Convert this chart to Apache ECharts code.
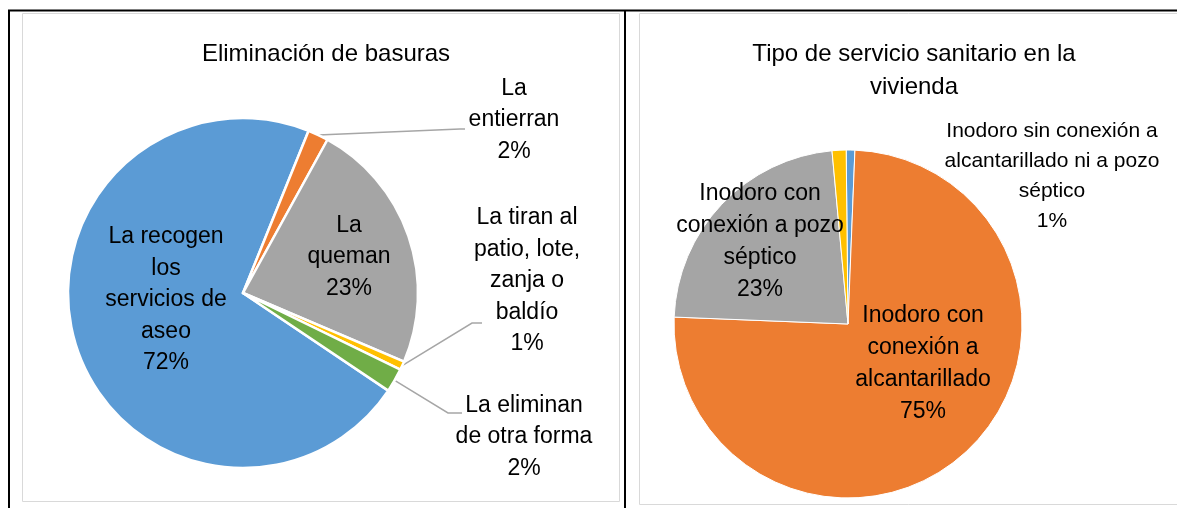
<!DOCTYPE html>
<html>
<head>
<meta charset="utf-8">
<title>Eliminación de basuras - Tipo de servicio sanitario</title>
<script src="https://cdn.jsdelivr.net/npm/echarts@6/dist/echarts.min.js"></script>
<style>
	html, body { margin: 0; padding: 0; background: #fff; }
	#graficos { width: 1177px; height: 508px; }
</style>
</head>
<body>
<div id="graficos"></div>
<script>
// Eliminación de basuras
var basurasNombres = ['La recogen los servicios de aseo', 'La entierran', 'La queman', 'La tiran al patio, lote, zanja o baldío', 'La eliminan de otra forma'];
var basurasValores = [71.7, 1.9, 23.4, 0.8, 2.2];

// Tipo de servicio sanitario en la vivienda
var sanitarioNombres = ['Inodoro sin conexión a alcantarillado ni a pozo séptico', 'Inodoro con conexión a alcantarillado', 'Inodoro con conexión a pozo séptico', 'Otro'];
var sanitarioValores = [0.8, 75, 22.9, 1.3];

// textos de las etiquetas con sus saltos de línea
var basurasEtiquetas = ['La recogen\nlos\nservicios de\naseo', 'La\nentierran', 'La\nqueman', 'La tiran al\npatio, lote,\nzanja o\nbaldío', 'La eliminan\nde otra forma'];
var sanitarioEtiquetas = ['Inodoro sin conexión a\nalcantarillado ni a pozo\nséptico', 'Inodoro con\nconexión a\nalcantarillado', 'Inodoro con\nconexión a pozo\nséptico', ''];

// colores tipo Office
var colores = ['#5B9BD5', '#ED7D31', '#A5A5A5', '#FFC000', '#70AD47'];

// posición de las etiquetas (centro del bloque de texto) y guías
var basurasPos = [[166, 300], [514, 120], [349, 257], [527, 281], [524, 437]];
var basurasGuia = [null, [[460, 129], [465, 129]], null, [[472, 323], [482, 323]], [[448, 413], [462, 413]]];
var sanitarioPos = [[1052, 176], [923, 364], [760, 242], [0, 0]];

var fuente = '"Liberation Sans", Arial, sans-serif';

function armarDatos(nombres, valores, etiquetasFuera) {
	var datos = [];
	for (var i = 0; i < nombres.length; i++) {
		var fuera = etiquetasFuera.indexOf(i) >= 0;
		datos.push({
			name: nombres[i],
			value: valores[i],
			itemStyle: { color: colores[i] },
			label: { position: fuera ? 'outside' : 'inside' },
			labelLine: { show: fuera }
		});
	}
	return datos;
}

var datosBasuras = armarDatos(basurasNombres, basurasValores, [1, 3, 4]);
var datosSanitario = armarDatos(sanitarioNombres, sanitarioValores, [0]);
// la última porción no lleva etiqueta
datosSanitario[3].label = { show: false };
// la etiqueta de arriba es un poco más pequeña
datosSanitario[0].label = { position: 'outside', fontSize: 21, lineHeight: 30 };
datosSanitario[0].labelLine = { show: false };

var chartObj = echarts.init(document.getElementById('graficos'));

var option = {
	animation: false,
	title: [
		{
			text: 'Eliminación de basuras',
			left: 321,
			top: 34,
			textAlign: 'center',
			textStyle: { fontFamily: fuente, fontSize: 24, fontWeight: 'normal', color: '#000', lineHeight: 30 }
		},
		{
			text: 'Tipo de servicio sanitario en la\nvivienda',
			left: 909,
			top: 33,
			textAlign: 'center',
			textStyle: { fontFamily: fuente, fontSize: 24, fontWeight: 'normal', color: '#000', lineHeight: 33 }
		}
	],
	//marcos de la tabla y de los gráficos
	graphic: [
		{ type: 'rect', shape: { x: 22.5, y: 13.5, width: 597, height: 488 }, style: { fill: null, stroke: '#D9D9D9', lineWidth: 1 }, z: -1 },
		{ type: 'rect', shape: { x: 639.5, y: 13.5, width: 560, height: 491 }, style: { fill: null, stroke: '#D9D9D9', lineWidth: 1 }, z: -1 },
		{ type: 'line', shape: { x1: 8, y1: 10.5, x2: 1177, y2: 10.5 }, style: { stroke: '#000', lineWidth: 2 } },
		{ type: 'line', shape: { x1: 9, y1: 10, x2: 9, y2: 508 }, style: { stroke: '#000', lineWidth: 2 } },
		{ type: 'line', shape: { x1: 625, y1: 10, x2: 625, y2: 508 }, style: { stroke: '#000', lineWidth: 2 } }
	],
	series: [
		{
			name: 'Eliminación de basuras',
			type: 'pie',
			center: [243, 293],
			radius: 175,
			startAngle: -33.9,
			clockwise: true,
			avoidLabelOverlap: false,
			itemStyle: { borderColor: '#fff', borderWidth: 2.5 },
			label: {
				fontFamily: fuente,
				fontSize: 23,
				lineHeight: 31.5,
				color: '#000',
				align: 'center',
				formatter: function (p) {
					return basurasEtiquetas[p.dataIndex] + '\n' + Math.round(p.percent) + '%';
				}
			},
			labelLine: { lineStyle: { color: '#A6A6A6', width: 1.5 } },
			labelLayout: function (params) {
				var pos = basurasPos[params.dataIndex];
				var res = { x: pos[0], y: pos[1], align: 'center', verticalAlign: 'middle' };
				var guia = basurasGuia[params.dataIndex];
				if (guia && params.labelLinePoints) {
					res.labelLinePoints = [params.labelLinePoints[0], guia[0], guia[1]];
				}
				return res;
			},
			emphasis: { disabled: true },
			data: datosBasuras
		},
		{
			name: 'Tipo de servicio sanitario en la vivienda',
			type: 'pie',
			center: [848, 324],
			radius: 174,
			startAngle: 90.6,
			clockwise: true,
			avoidLabelOverlap: false,
			itemStyle: { borderColor: '#fff', borderWidth: 1 },
			label: {
				fontFamily: fuente,
				fontSize: 23,
				lineHeight: 32,
				color: '#000',
				align: 'center',
				formatter: function (p) {
					return sanitarioEtiquetas[p.dataIndex] + '\n' + Math.round(p.percent) + '%';
				}
			},
			labelLayout: function (params) {
				var pos = sanitarioPos[params.dataIndex];
				return { x: pos[0], y: pos[1], align: 'center', verticalAlign: 'middle' };
			},
			emphasis: { disabled: true },
			data: datosSanitario
		}
	]
};

chartObj.setOption(option);
</script>
</body>
</html>
